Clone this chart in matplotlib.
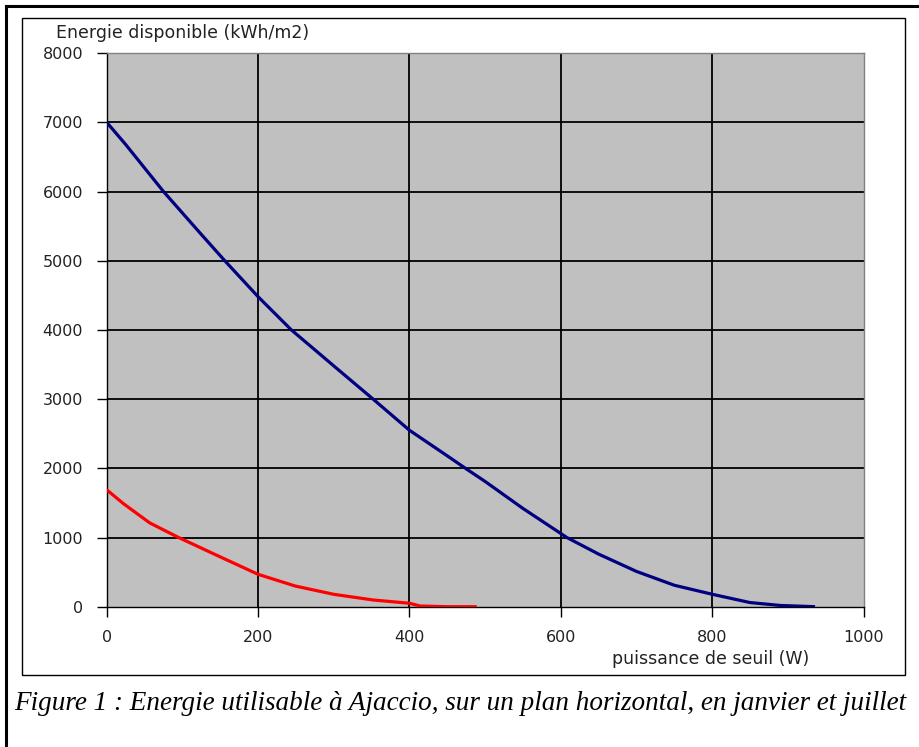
import matplotlib
matplotlib.use("Agg")
import matplotlib.pyplot as plt
from matplotlib.patches import Rectangle
from matplotlib.lines import Line2D

# Data
juillet_w = [0, 25, 50, 75, 100, 125, 156, 200, 244, 300, 352, 400, 450, 474,
             500, 550, 608, 650, 700, 750, 800, 850, 890, 936]
juillet_e = [7000, 6680, 6340, 6000, 5690, 5380, 5000, 4480, 4000, 3480, 3000,
             2550, 2180, 2000, 1810, 1420, 1000, 760, 510, 310, 180, 60, 18, 0]

janvier_w = [0, 22, 57, 95, 150, 200, 249, 300, 352, 400, 414, 450, 489]
janvier_e = [1690, 1490, 1210, 1000, 720, 468, 299, 179, 97, 50, 10, 0, 0]

x_ticks = [0, 200, 400, 600, 800, 1000]
y_ticks = [0, 1000, 2000, 3000, 4000, 5000, 6000, 7000, 8000]

y_title = "Energie disponible (kWh/m2)"
x_title = "puissance de seuil (W)"
caption = "Figure 1 : Energie utilisable à Ajaccio, sur un plan horizontal, en janvier et juillet"

W, H = 920, 747
fig = plt.figure(figsize=(W / 100, H / 100), dpi=100)
fig.patch.set_facecolor("white")

def fx(px):
    return px / W

def fy(py):
    return 1 - py / H

# outer frame (top and left only visible)
fig.add_artist(Line2D([fx(6), fx(925)], [fy(5.5), fy(5.5)], color="black", lw=2.2, transform=fig.transFigure))
fig.add_artist(Line2D([fx(6), fx(6)], [fy(5.5), fy(760)], color="black", lw=2.2, transform=fig.transFigure))
# inner chart frame
fig.add_artist(Rectangle((fx(22.5), fy(675)), fx(905.5) - fx(22.5), fy(17.5) - fy(675),
                         fill=False, edgecolor="black", lw=1.0, transform=fig.transFigure))

left, right = 106.7, 863.5
top, bottom = 53.1, 606.7
ax = fig.add_axes([fx(left), fy(bottom), fx(right) - fx(left), fy(top) - fy(bottom)])
ax.set_facecolor("#C0C0C0")
ax.set_xlim(0, 1000)
ax.set_ylim(0, 8000)

for v in x_ticks[1:-1]:
    ax.axvline(v, color="#000000", lw=1.3, zorder=1)
for v in y_ticks[1:-1]:
    ax.axhline(v, color="#000000", lw=1.3, zorder=1)

ax.plot(juillet_w, juillet_e, color="#000080", lw=2.3, zorder=3, solid_capstyle="butt")
ax.plot(janvier_w, janvier_e, color="#FF0000", lw=2.3, zorder=3, solid_capstyle="butt")

for s in ["top", "right"]:
    ax.spines[s].set_color("#808080")
    ax.spines[s].set_linewidth(1.0)
for s in ["left", "bottom"]:
    ax.spines[s].set_color("black")
    ax.spines[s].set_linewidth(1.0)

ax.set_xticks(x_ticks)
ax.set_yticks(y_ticks)
ax.set_xticklabels([str(v) for v in x_ticks])
ax.set_yticklabels([str(v) for v in y_ticks])
ax.tick_params(axis="both", direction="out", length=7, width=1.0, color="black",
               labelsize=11.5, labelcolor="#222222")
ax.tick_params(axis="y", pad=10)
ax.tick_params(axis="x", pad=10)
for lbl in ax.get_xticklabels() + ax.get_yticklabels():
    lbl.set_family("DejaVu Sans")

fig.text(fx(56), fy(33), y_title, fontsize=12.5, family="DejaVu Sans",
         ha="left", va="center", color="#222222")
fig.text(fx(711), fy(659), x_title, fontsize=12.5, family="DejaVu Sans",
         ha="center", va="center", color="#222222")
fig.text(fx(460), fy(703), caption, fontsize=19.5, family="Liberation Serif",
         style="italic", ha="center", va="center", color="black")

fig.savefig("out.png", dpi=100)
